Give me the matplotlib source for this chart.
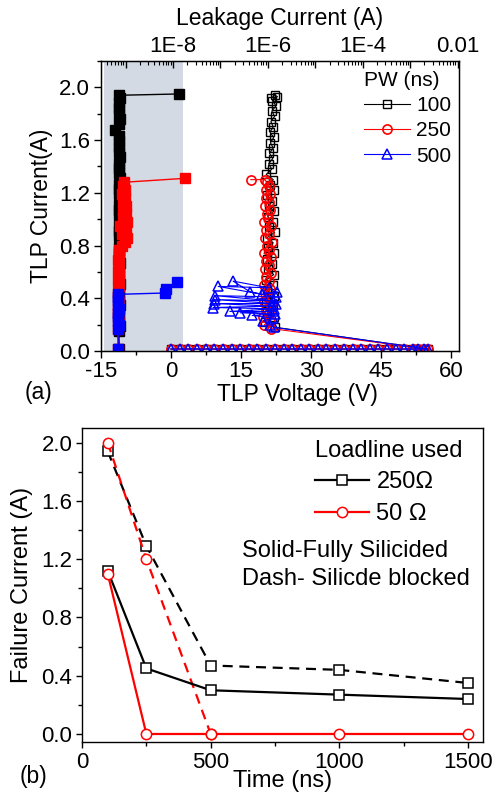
import numpy as np
import matplotlib
matplotlib.use("Agg")
import matplotlib.pyplot as plt
from matplotlib.ticker import MultipleLocator, LogLocator, FuncFormatter, NullFormatter

plt.rcParams['font.family'] = ['Liberation Sans', 'DejaVu Sans']

# ---------------- Panel (a) data ----------------
# off-state sweep (before snapback), common to the three pulse widths
off_v = [0.0, 1.9, 3.7, 5.6, 7.4, 9.3, 11.1, 13.0, 14.8, 16.7, 18.5, 20.4, 22.2, 24.1,
         25.9, 27.8, 29.6, 31.5, 33.3, 35.2, 37.0, 38.9, 40.7, 42.6, 44.4, 46.3, 48.1,
         50.0, 51.8, 53.0, 54.2, 55.0]
off_i = [0.015] * len(off_v)

# 100 ns on-state
on_v_100 = [22.3, 20.2, 22.0, 20.5, 21.8, 20.3, 22.1, 20.6, 21.9, 20.4, 22.0, 20.7, 21.7,
            20.5, 22.1, 20.8, 21.9, 20.6, 22.2, 20.9, 21.8, 20.7, 22.0, 21.0, 21.7, 20.6,
            22.1, 21.2, 21.9, 20.4, 21.6, 20.9, 21.8, 21.1, 21.9, 21.3, 22.0, 21.2, 21.9,
            21.4, 22.2, 21.6, 22.5, 21.7, 22.8, 22.3, 21.5]
on_i_100 = [0.18, 0.22, 0.26, 0.30, 0.34, 0.38, 0.42, 0.46, 0.50, 0.54, 0.58, 0.62, 0.66,
            0.70, 0.74, 0.78, 0.82, 0.86, 0.90, 0.94, 0.98, 1.02, 1.06, 1.10, 1.14, 1.18,
            1.22, 1.26, 1.30, 1.34, 1.38, 1.42, 1.46, 1.50, 1.54, 1.58, 1.62, 1.66, 1.70,
            1.74, 1.78, 1.82, 1.86, 1.90, 1.93, 1.94, 1.92]

# 250 ns on-state
on_v_250 = [21.5, 20.0, 21.2, 19.8, 21.0, 20.3, 21.4, 19.9, 20.8, 20.2, 21.3, 20.0, 20.9,
            20.4, 21.5, 20.1, 21.0, 20.3, 21.4, 19.9, 20.9, 20.5, 21.6, 20.2, 21.1, 20.4,
            21.5, 20.0, 20.8, 20.6, 21.3, 20.1, 21.0, 20.4, 21.2, 20.3, 20.9, 20.5, 20.1, 17.1]
on_i_250 = [0.17, 0.20, 0.23, 0.26, 0.29, 0.32, 0.35, 0.38, 0.41, 0.44, 0.47, 0.50, 0.53,
            0.56, 0.59, 0.62, 0.65, 0.68, 0.71, 0.74, 0.77, 0.80, 0.83, 0.86, 0.89, 0.92,
            0.95, 0.98, 1.01, 1.04, 1.07, 1.10, 1.13, 1.16, 1.19, 1.22, 1.25, 1.28, 1.30, 1.30]

# 500 ns on-state
on_v_500 = [22.0, 21.2, 19.8, 21.9, 17.4, 22.3, 14.8, 21.8, 12.6, 22.0, 9.0, 21.7, 9.2,
            22.4, 9.4, 21.9, 9.4, 22.6, 10.1, 20.9, 13.3, 16.9, 19.6, 22.7]
on_i_500 = [0.18, 0.20, 0.23, 0.25, 0.27, 0.28, 0.29, 0.30, 0.30, 0.32, 0.33, 0.34, 0.36,
            0.36, 0.39, 0.38, 0.42, 0.41, 0.49, 0.48, 0.53, 0.45, 0.43, 0.45]

# leakage current (top log axis) vs TLP current
leak_i_100 = [0.015, 0.15, 0.19, 0.23, 0.27, 0.31, 0.35, 0.39, 0.43, 0.47, 0.51, 0.55,
              0.59, 0.63, 0.67, 0.71, 0.75, 0.79, 0.83, 0.87, 0.91, 0.95, 0.99, 1.03,
              1.07, 1.11, 1.15, 1.19, 1.23, 1.27, 1.31, 1.35, 1.39, 1.43, 1.47, 1.51,
              1.55, 1.59, 1.63, 1.68, 1.72, 1.76, 1.80, 1.84, 1.88, 1.92, 1.94, 1.95]
leak_a_100 = [7.3e-10, 7.2e-10, 7.5e-10, 7.2e-10, 7.4e-10, 7.3e-10, 7.5e-10, 7.2e-10,
              7.4e-10, 7.2e-10, 7.5e-10, 7.3e-10, 7.4e-10, 7.2e-10, 7.5e-10, 7.2e-10,
              7.4e-10, 7.3e-10, 7.5e-10, 7.2e-10, 7.4e-10, 7.2e-10, 7.5e-10, 7.3e-10,
              7.4e-10, 7.2e-10, 7.5e-10, 7.3e-10, 7.4e-10, 7.2e-10, 7.5e-10, 7.3e-10,
              7.4e-10, 7.2e-10, 7.5e-10, 7.3e-10, 7.4e-10, 7.2e-10, 7.3e-10, 6.0e-10,
              7.3e-10, 7.5e-10, 7.2e-10, 7.4e-10, 7.3e-10, 7.5e-10, 7.4e-10, 1.35e-8]

leak_i_250 = [0.015, 0.17, 0.21, 0.25, 0.29, 0.33, 0.37, 0.41, 0.45, 0.49, 0.53, 0.57,
              0.61, 0.65, 0.69, 0.73, 0.77, 0.80, 0.83, 0.86, 0.89, 0.92, 0.95, 0.98,
              1.01, 1.04, 1.07, 1.10, 1.13, 1.16, 1.19, 1.22, 1.25, 1.28, 1.31]
leak_a_250 = [7.0e-10, 6.9e-10, 7.1e-10, 6.9e-10, 7.0e-10, 6.9e-10, 7.1e-10, 6.9e-10,
              7.0e-10, 7.2e-10, 6.9e-10, 7.1e-10, 7.0e-10, 7.2e-10, 6.9e-10, 7.1e-10,
              7.4e-10, 8.2e-10, 9.6e-10, 1.06e-9, 8.4e-10, 1.0e-9, 7.6e-10, 1.06e-9,
              8.8e-10, 1.03e-9, 9.0e-10, 1.0e-9, 8.6e-10, 9.6e-10, 8.4e-10, 9.8e-10,
              8.6e-10, 9.2e-10, 1.8e-8]

leak_i_500 = [0.015, 0.17, 0.20, 0.23, 0.26, 0.29, 0.32, 0.35, 0.38, 0.41, 0.43, 0.44,
              0.47, 0.52]
leak_a_500 = [7.0e-10, 6.9e-10, 7.1e-10, 6.9e-10, 7.0e-10, 6.8e-10, 7.1e-10, 6.9e-10,
              7.0e-10, 6.9e-10, 7.0e-10, 6.8e-9, 7.1e-9, 1.2e-8]

pw_labels = ['100', '250', '500']

# ---------------- Panel (b) data ----------------
time_ns = [100, 250, 500, 1000, 1500]
if_250_solid = [1.12, 0.45, 0.30, 0.27, 0.24]
if_250_dash = [1.94, 1.29, 0.47, 0.44, 0.35]
if_50_solid = [1.10, 0.0, 0.0, 0.0, 0.0]
time_50_dash = [100, 250, 500]
if_50_dash = [2.00, 1.20, 0.0]

# ---------------- figure ----------------
fig = plt.figure(figsize=(4.98, 7.95), dpi=100)
TICK = 16
LAB = 16.5

ax1 = fig.add_axes([101 / 498, 1 - 351 / 795, 358 / 498, 290 / 795])
ax1.set_xlim(-15, 61.7)
ax1.set_ylim(0, 2.2)
ax1.axvspan(-14.4, 2.55, color='#d3dae3', zorder=0, lw=0)

cols = ['black', 'red', 'blue']
mk = ['s', 'o', '^']
ms = [5.4, 6.6, 7.0]
mew = [1.0, 1.2, 1.1]
ons = [(on_v_100, on_i_100), (on_v_250, on_i_250), (on_v_500, on_i_500)]
handles = []
for c, m, s, w, (v, i), lab in zip(cols, mk, ms, mew, ons, pw_labels):
    vv = off_v + v
    ii = off_i + i
    h, = ax1.plot(vv, ii, color=c, marker=m, ms=s, mfc='none', mec=c, mew=w,
                  lw=0.8, label=lab)
    handles.append(h)

ax1.xaxis.set_major_locator(MultipleLocator(15))
ax1.xaxis.set_minor_locator(MultipleLocator(7.5))
ax1.yaxis.set_major_locator(MultipleLocator(0.4))
ax1.yaxis.set_minor_locator(MultipleLocator(0.2))
ax1.yaxis.set_major_formatter(FuncFormatter(lambda y, p: f"{y:.1f}"))
ax1.xaxis.set_major_formatter(FuncFormatter(lambda x, p: f"{x:.0f}"))
ax1.tick_params(axis='both', which='major', direction='out', length=5, width=1,
                labelsize=TICK, pad=3)
ax1.tick_params(axis='x', which='major', pad=2)
ax1.tick_params(axis='both', which='minor', direction='out', length=3, width=1)
ax1.tick_params(top=False, right=False, which='both')
for sp in ax1.spines.values():
    sp.set_linewidth(1.0)

ax1.set_xlabel('TLP Voltage (V)', fontsize=LAB)
ax1.xaxis.set_label_coords((297 - 101) / 358, (351 - 395) / 290)
ax1.xaxis.label.set_va('center')
ax1.set_ylabel('TLP Current(A)', fontsize=LAB)
ax1.yaxis.set_label_coords((41 - 101) / 358, 0.5)
ax1.yaxis.label.set_va('center')

# top leakage axis
axt = ax1.twiny()
axt.set_xscale('log')
axt.set_xlim(10 ** -9.52, 10 ** -1.97)
for li, la, c in zip([leak_i_100, leak_i_250, leak_i_500],
                     [leak_a_100, leak_a_250, leak_a_500], cols):
    axt.plot(la, li, color=c, marker='s', ms=6.6, mfc=c, mec=c, lw=1.0)

def top_fmt(x, p):
    e = int(round(np.log10(x)))
    lab = {-8: '1E-8', -6: '1E-6', -4: '1E-4', -2: '0.01'}
    return lab.get(e, '')

axt.xaxis.set_major_locator(LogLocator(base=10, numticks=30))
axt.xaxis.set_minor_locator(LogLocator(base=10, subs=np.arange(2, 10), numticks=30))
axt.xaxis.set_major_formatter(FuncFormatter(top_fmt))
axt.xaxis.set_minor_formatter(NullFormatter())
axt.tick_params(axis='x', which='major', direction='in', length=5, width=1,
                labelsize=TICK, pad=3)
axt.tick_params(axis='x', which='minor', direction='in', length=3, width=0.8)
axt.set_xlabel('Leakage Current (A)', fontsize=LAB)
axt.xaxis.set_label_coords(0.5, (351 - 18) / 290)
axt.xaxis.label.set_va('center')

leg1 = ax1.legend(handles=handles, title='PW (ns)', loc='upper left',
                  bbox_to_anchor=((364 - 101) / 358, (351 - 71) / 290),
                  frameon=False, fontsize=15, title_fontsize=15,
                  handlelength=2.2, handletextpad=0.3, labelspacing=0.3,
                  borderpad=0, borderaxespad=0, alignment='left')

# ---------------- Panel (b) ----------------
ax2 = fig.add_axes([82 / 498, 1 - 742 / 795, 401 / 498, 314 / 795])
ax2.set_xlim(0, 1558)
ax2.set_ylim(-0.055, 2.1)
ax2.plot(time_ns, if_250_dash, color='black', lw=1.6, dashes=(4.5, 3), marker='s',
         ms=6.8, mfc='white', mec='black', mew=1.1)
ax2.plot(time_50_dash, if_50_dash, color='red', lw=1.6, dashes=(4.5, 3), marker='o',
         ms=7.4, mfc='white', mec='red', mew=1.1)
h250, = ax2.plot(time_ns, if_250_solid, color='black', lw=1.6, marker='s', ms=6.8,
                 mfc='white', mec='black', mew=1.1, label='250\u03a9')
h50, = ax2.plot(time_ns, if_50_solid, color='red', lw=1.6, marker='o', ms=7.4,
                mfc='white', mec='red', mew=1.1, label='50 \u03a9')

ax2.xaxis.set_major_locator(MultipleLocator(500))
ax2.xaxis.set_minor_locator(MultipleLocator(250))
ax2.yaxis.set_major_locator(MultipleLocator(0.4))
ax2.yaxis.set_minor_locator(MultipleLocator(0.2))
ax2.yaxis.set_major_formatter(FuncFormatter(lambda y, p: f"{y:.1f}"))
ax2.tick_params(axis='both', which='major', direction='out', length=4, width=1,
                labelsize=TICK, pad=3)
ax2.tick_params(axis='both', which='minor', direction='out', length=3, width=1)
for sp in ax2.spines.values():
    sp.set_linewidth(1.0)
ax2.set_xlabel('Time (ns)', fontsize=17)
ax2.xaxis.set_label_coords(0.5, (742 - 781) / 314)
ax2.xaxis.label.set_va('center')
ax2.set_ylabel('Failure Current (A)', fontsize=17)
ax2.yaxis.set_label_coords((22 - 82) / 401, 0.5)
ax2.yaxis.label.set_va('center')

leg2 = ax2.legend(handles=[h250, h50], title='Loadline used', loc='upper left',
                  bbox_to_anchor=((315 - 82) / 401, (742 - 440) / 314),
                  frameon=False, fontsize=17, title_fontsize=17,
                  handlelength=2.3, handletextpad=0.3, labelspacing=0.4,
                  borderpad=0, borderaxespad=0, alignment='left')

ax2.text((242 - 82) / 401, (742 - 565) / 314,
         'Solid-Fully Silicided\nDash- Silicde blocked', transform=ax2.transAxes,
         fontsize=17, ha='left', va='center', linespacing=1.3)

fig.text(38 / 498, 1 - 392 / 795, '(a)', fontsize=LAB, ha='center', va='center')
fig.text(33 / 498, 1 - 776 / 795, '(b)', fontsize=LAB, ha='center', va='center')

fig.savefig('out.png', dpi=100)
